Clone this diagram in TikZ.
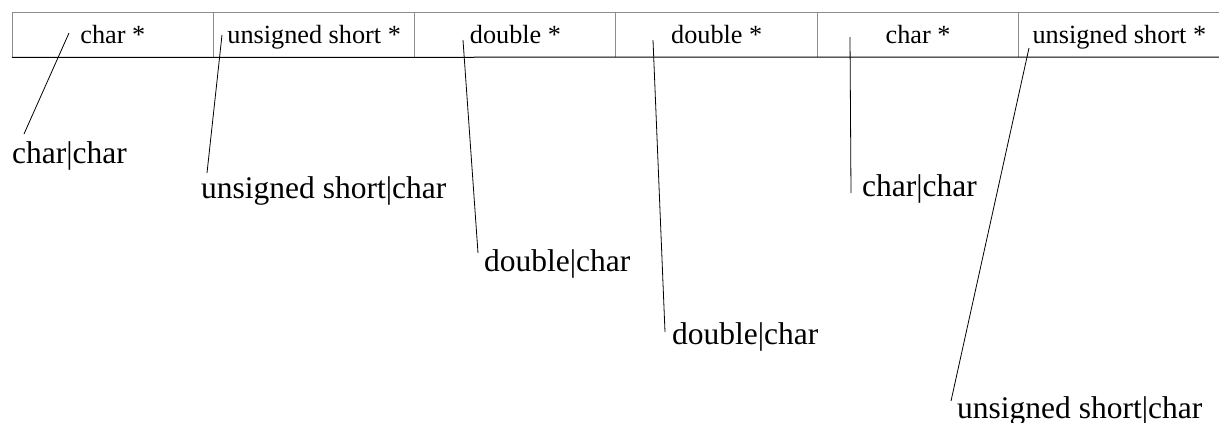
\documentclass[tikz,border=0pt]{standalone}
\usepackage{fontspec}
\setmainfont{Liberation Serif}
\begin{document}
\begin{tikzpicture}[x=1pt,y=-1pt,
  cellbox/.style={inner sep=0, minimum width=201.3pt, minimum height=45pt, anchor=north west},
  celltext/.style={inner sep=0, anchor=base, font=\fontsize{26.25}{30}\selectfont},
  tag/.style={inner sep=0, anchor=base west, font=\fontsize{31.5}{36}\selectfont},
  leader/.style={line width=0.8pt, black},
  edge/.style={line width=1pt, gray!90},
  baseline/.style={line width=1pt, black}]
\useasboundingbox (0,0) rectangle (1219,423);

% the row of six pointer cells
\foreach \i/\x in {1/12,2/213.3,3/414.6,4/615.9,5/817.2,6/1018.5}
  \node[cellbox] (c\i) at (\x,12) {};
\draw[edge] (c1.north west) -- (1240,12);
\draw[edge] (c1.north west) -- (c1.south west);
\foreach \i in {2,...,6}
  \draw[edge] (c\i.north west) -- (c\i.south west);
\draw[baseline] (c1.south west) -- (1240,57);

% cell captions
\node[celltext] (t1) at ([yshift=-8.5pt]c1.center) {char *};
\node[celltext] (t2) at ([yshift=-8.5pt]c2.center) {unsigned short *};
\node[celltext] (t3) at ([yshift=-8.5pt]c3.center) {double *};
\node[celltext] (t4) at ([yshift=-8.5pt]c4.center) {double *};
\node[celltext] (t5) at ([yshift=-8.5pt]c5.center) {char *};
\node[celltext] (t6) at ([yshift=-8.5pt]c6.center) {unsigned short *};

% pair labels below the row
\node[tag] (l1) at (12,163) {char|char};
\node[tag] (l2) at (201,198) {unsigned short|char};
\node[tag] (l3) at (484,271) {double|char};
\node[tag] (l4) at (672,344) {double|char};
\node[tag] (l5) at (862,196) {char|char};
\node[tag] (l6) at (957,418) {unsigned short|char};

% leader line end points
\coordinate (p1) at (69,33);    \coordinate (e1) at (24,134);
\coordinate (p2) at (222,35);   \coordinate (e2) at (207,173);
\coordinate (p3) at (463,40);   \coordinate (e3) at (478,253);
\coordinate (p4) at (653,40);   \coordinate (e4) at (665,332);
\coordinate (p5) at (850,37);   \coordinate (e5) at (851,193);
\coordinate (p6) at (1029,48);  \coordinate (e6) at (951,401);

\foreach \k in {1,...,6}
  \draw[leader] (p\k) -- (e\k);
\end{tikzpicture}
\end{document}
